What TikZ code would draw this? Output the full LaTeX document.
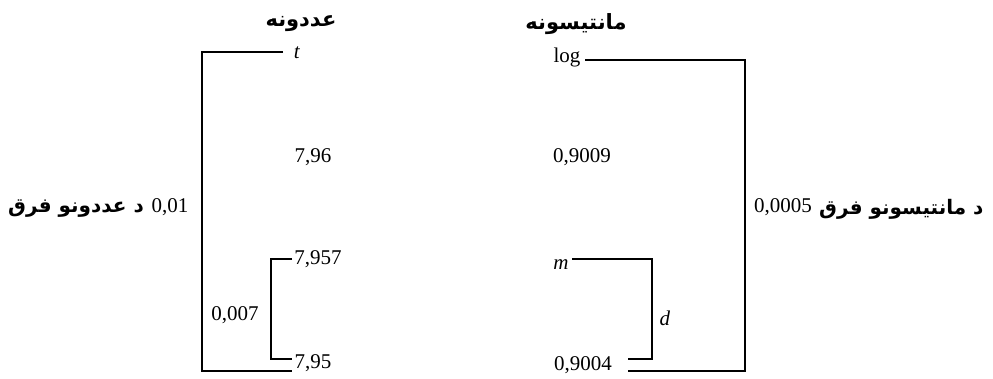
\documentclass[tikz,border=0pt]{standalone}
\usepackage{fontspec}
\setmainfont{Liberation Serif}
\newfontfamily\arabicfont[Script=Arabic]{DejaVu Sans}
\TeXXeTstate=1
\begin{document}
\begin{tikzpicture}[x=1pt,y=-1pt,
  num/.style={inner sep=0pt,font=\fontsize{21}{24}\selectfont},
  ar/.style={inner sep=0pt,font=\fontsize{21}{26}\selectfont\arabicfont\bfseries},
  arside/.style={ar,font=\fontsize{20}{26}\selectfont\arabicfont\bfseries},
  brk/.style={line width=1.3pt}]
\useasboundingbox (0,0) rectangle (993,379);
% headers
\node[ar] (h1) at (301,24) {\beginR عددونه\endR};
\node[ar] (h2) at (576,24) {\beginR مانتیسونه\endR};
% left column
\node[num] (t) at (297,53) {\textit{t}};
\node[num] (n796) at (313,157) {7,96};
\node[num] (n7957) at (318,259) {7,957};
\node[num] (n795) at (313,363) {7,95};
\node[num] (n0007) at (235,315) {0,007};
\node[num] (n001) at (170,207) {0,01};
\node[arside,anchor=east] (lbl1) at (144,209) {\beginR د عددونو فرق\endR};
\coordinate (tl) at (202,52);
\coordinate (tr) at (283,52);
\coordinate (bl) at (202,371);
\coordinate (br) at (292,371);
\draw[brk] (tr) -- (tl) -- (bl) -- (br);
\coordinate (itl) at (271,259);
\coordinate (itr) at (292,259);
\coordinate (ibl) at (271,359);
\coordinate (ibr) at (292,359);
\draw[brk] (itr) -- (itl) -- (ibl) -- (ibr);
% right column
\node[num] (log) at (567,57) {log};
\node[num] (n9009) at (582,157) {0,9009};
\node[num] (m) at (561,265) {\textit{m}};
\node[num] (d) at (665,318) {\textit{d}};
\node[num] (n9004) at (583,365) {0,9004};
\node[num] (n0005) at (783,207) {0,0005};
\node[arside,anchor=west] (lbl2) at (819,209) {\beginR د مانتیسونو فرق\endR};
\coordinate (rtl) at (585,60);
\coordinate (rtr) at (745,60);
\coordinate (rbr) at (745,371);
\coordinate (rbl) at (628,371);
\draw[brk] (rtl) -- (rtr) -- (rbr) -- (rbl);
\coordinate (mtl) at (572,259);
\coordinate (mtr) at (652,259);
\coordinate (mbr) at (652,359);
\coordinate (mbl) at (628,359);
\draw[brk] (mtl) -- (mtr) -- (mbr) -- (mbl);
\end{tikzpicture}
\end{document}
